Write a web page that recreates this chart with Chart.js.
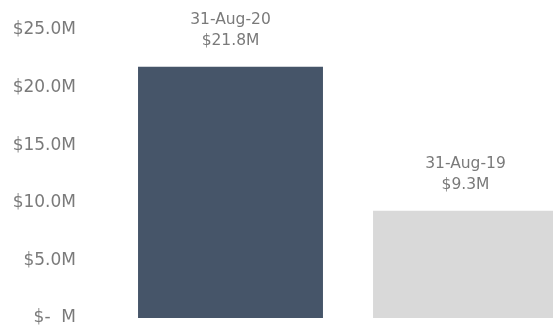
<!DOCTYPE html>
<html>
<head>
<meta charset="utf-8">
<script src="https://cdn.jsdelivr.net/npm/chart.js@4/dist/chart.umd.min.js"></script>
<style>
  html, body { margin: 0; padding: 0; overflow: hidden; background: #ffffff; }
  canvas { display: block; }
</style>
</head>
<body>
<canvas id="c" width="600" height="334"></canvas>
<script>
// Data (values in millions of dollars)
const categories = ['31-Aug-20', '31-Aug-19'];
const values = [21.8, 9.3];
const valueLabels = ['$21.8M', '$9.3M'];
const barColors = ['#465569', '#d9d9d9'];
const yTicks = [0, 5, 10, 15, 20, 25];

const textColor = '#7a7a7a';

const labelPlugin = {
  id: 'barLabels',
  afterDatasetsDraw(chart) {
    const ctx = chart.ctx;
    const meta = chart.getDatasetMeta(0);
    ctx.save();
    ctx.fillStyle = textColor;
    ctx.textAlign = 'center';
    ctx.textBaseline = 'middle';
    ctx.font = '15.5px "DejaVu Sans"';
    meta.data.forEach((bar, i) => {
      ctx.fillText(categories[i], bar.x, bar.y - 47);
      ctx.fillText(valueLabels[i], bar.x, bar.y - 26);
    });
    ctx.restore();
  }
};

new Chart(document.getElementById('c'), {
  type: 'bar',
  data: {
    labels: categories,
    datasets: [{
      data: values,
      backgroundColor: barColors,
      borderWidth: 0,
      categoryPercentage: 1.0,
      barPercentage: 0.787
    }]
  },
  options: {
    responsive: false,
    maintainAspectRatio: false,
    animation: false,
    layout: { padding: { top: 30, bottom: 16, left: 0, right: 17 } },
    plugins: { legend: { display: false }, tooltip: { enabled: false } },
    scales: {
      x: { display: false },
      y: {
        min: 0,
        max: 25,
        afterFit(scale) {
          scale.width = 113;
          scale.paddingTop = 0;
          scale.paddingBottom = 0;
        },
        afterBuildTicks(scale) { scale.ticks = yTicks.map(v => ({ value: v })); },
        grid: { display: false, drawTicks: false },
        border: { display: false },
        ticks: {
          padding: 37,
          color: textColor,
          font: { family: 'DejaVu Sans', size: 17 },
          callback: (v) => v === 0 ? '$-  M' : '$' + Number(v).toFixed(1) + 'M'
        }
      }
    }
  },
  plugins: [labelPlugin]
});
</script>
</body>
</html>
